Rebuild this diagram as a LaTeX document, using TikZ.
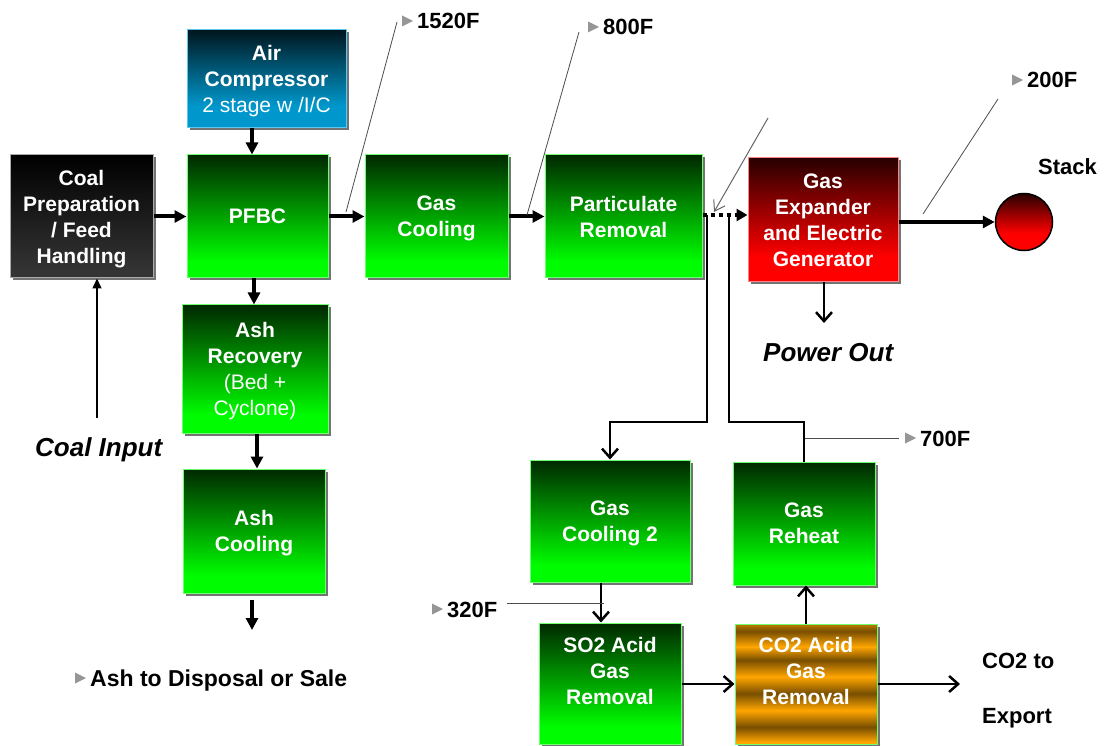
\documentclass[tikz,border=0pt]{standalone}
\usepackage{fontspec}
\setmainfont{Liberation Sans}
\usetikzlibrary{arrows.meta,shadows,calc}

\definecolor{gTop}{RGB}{0,40,0}
\definecolor{gBot}{RGB}{0,252,0}
\definecolor{gLine}{RGB}{110,255,110}
\definecolor{rTop}{RGB}{40,0,0}
\definecolor{rBot}{RGB}{255,0,0}
\definecolor{rLine}{RGB}{255,130,130}
\definecolor{bTop}{RGB}{0,22,30}
\definecolor{bBot}{RGB}{0,152,204}
\definecolor{bLine}{RGB}{90,200,240}
\definecolor{kTop}{RGB}{0,0,0}
\definecolor{kBot}{RGB}{52,52,52}
\definecolor{kLine}{RGB}{170,170,170}
\definecolor{oDark}{RGB}{120,78,0}
\definecolor{oLight}{RGB}{255,166,0}
\definecolor{oMid}{RGB}{190,125,0}
\definecolor{triGray}{RGB}{150,150,150}

\pgfdeclareverticalshading{shgreen}{100bp}{color(0bp)=(gBot); color(32bp)=(gBot); color(75bp)=(gTop); color(100bp)=(gTop)}
\pgfdeclareverticalshading{shred}{100bp}{color(0bp)=(rBot); color(35bp)=(rBot); color(75bp)=(rTop); color(100bp)=(rTop)}
\pgfdeclareverticalshading{shblue}{100bp}{color(0bp)=(bBot); color(36bp)=(bBot); color(75bp)=(bTop); color(100bp)=(bTop)}
\pgfdeclareverticalshading{shblack}{100bp}{color(0bp)=(kBot); color(28bp)=(kBot); color(75bp)=(kTop); color(100bp)=(kTop)}
\pgfdeclareverticalshading{shstack}{100bp}{color(0bp)=(rBot); color(40bp)=(rBot); color(75bp)=(rTop); color(100bp)=(rTop)}
\pgfdeclareverticalshading{shgold}{100bp}{color(0bp)=(oLight); color(25.8bp)=(oLight); color(32bp)=(oDark); color(39bp)=(oLight); color(46bp)=(oDark); color(53bp)=(oLight); color(60bp)=(oDark); color(65.5bp)=(oLight); color(72bp)=(oDark); color(75bp)=(oMid); color(100bp)=(oMid)}

\newcommand\tmark[1]{\fill[tri] ($(#1.base west)+(-15,-13.5)$) -- ++(11,5.5) -- ++(-11,5.5) -- cycle;}

\tikzset{
  boxtxt/.style={text=white, font=\fontsize{21}{26}\selectfont\bfseries, align=center, inner sep=0pt, text depth=0pt, line width=1pt, rectangle,
    general shadow={shadow xshift=2.5pt, shadow yshift=-2.5pt, fill=black!55}},
  gbox/.style={boxtxt, shade, shading=shgreen, draw=gLine},
  rbox/.style={boxtxt, shade, shading=shred, draw=rLine},
  bbox/.style={boxtxt, shade, shading=shblue, draw=bLine},
  kbox/.style={boxtxt, shade, shading=shblack, draw=kLine},
  obox/.style={boxtxt, shade, shading=shgold, draw=gLine},
  thk/.style={line width=4pt, -{Triangle[length=12pt,width=12pt]}},
  med/.style={line width=2.5pt, -{Straight Barb[length=9pt,width=16pt]}},
  plainln/.style={line width=2.5pt},
  leader/.style={draw=black!70, line width=0.8pt},
  lbl/.style={font=\fontsize{22}{26}\selectfont\bfseries, inner sep=0pt, anchor=base west},
  ital/.style={font=\fontsize{26}{30}\selectfont\bfseries\itshape, inner sep=0pt, anchor=base west},
  tri/.style={fill=triGray},
}

\begin{document}
\begin{tikzpicture}[x=1pt,y=-1pt]
\useasboundingbox (0,0) rectangle (1104,746);
\fill[white] (0,0) rectangle (1104,746);

% boxes
\node[kbox, minimum width=143pt, minimum height=123pt] (coal) at (81.5,216.5) {Coal\\Preparation\\/ Feed\\Handling};
\node[bbox, minimum width=159pt, minimum height=98pt] (air) at (266.5,79) {Air\\Compressor\\{\mdseries 2 stage w /I/C}};
\node[gbox, minimum width=141pt, minimum height=123pt] (pfbc) at (257.5,216.5) {PFBC};
\node[gbox, minimum width=143pt, minimum height=123pt] (gc) at (436.5,216.5) {Gas\\Cooling};
\node[gbox, minimum width=157pt, minimum height=123pt] (pr) at (623.5,216.5) {Particulate\\Removal};
\node[rbox, minimum width=150pt, minimum height=124pt] (ge) at (823,220) {Gas\\Expander\\and Electric\\Generator};
\node[circle, minimum size=57pt, inner sep=0pt, shade, shading=shstack, draw=black, line width=1.5pt] (stack) at (1024,222) {};
\node[gbox, minimum width=146pt, minimum height=128pt] (ashrec) at (255,369) {Ash\\Recovery\\{\mdseries (Bed +}\\{\mdseries Cyclone)}};
\node[gbox, minimum width=142pt, minimum height=124pt] (ashcool) at (254,531) {Ash\\Cooling};
\node[gbox, minimum width=160pt, minimum height=122pt] (gc2) at (610,521) {Gas\\Cooling 2};
\node[gbox, minimum width=142pt, minimum height=123pt] (gr) at (804,523.5) {Gas\\Reheat};
\node[gbox, minimum width=142pt, minimum height=121pt] (so2) at (610,683.5) {SO2 Acid\\Gas\\Removal\\\mbox{}};
\node[obox, minimum width=142pt, minimum height=120pt] (co2) at (806,684) {CO2 Acid\\Gas\\Removal\\\mbox{}};

% free ends and junctions
\coordinate (j1) at (707,215);
\coordinate (j2) at (729,215);
\coordinate (b1) at (707,422);
\coordinate (b2) at (805,422);
\coordinate (ci) at (97,418);
\coordinate (ao) at (252,630);
\coordinate (po) at (824,323);
\coordinate (ex) at (960,684);

% main thick arrows
\draw[thk] (coal.east) -- (pfbc.west);
\draw[thk] ($(pfbc.north |- air.south)+(-5.5,0)$) -- ($(pfbc.north)+(-5.5,0)$);
\draw[thk] (pfbc.east) -- (gc.west);
\draw[thk] (gc.east) -- (pr.west);
\draw[thk] ($(pfbc.south)+(-3.5,0)$) -- ($(pfbc.south |- ashrec.north)+(-3.5,0)$);
\draw[thk] ($(ashrec.south)+(2,0)$) -- ($(ashrec.south |- ashcool.north)+(2,0)$);
\draw[thk] ($(ashcool.south -| ao)+(0,6)$) -- (ao);
\draw[thk, line width=3.5pt] (ge.east |- stack.west) -- (stack.west);
\draw[line width=4pt, dash pattern=on 4pt off 4pt, -{Triangle[length=11pt,width=12pt]}] (pr.east |- j1) -- (ge.west |- j1);

% coal input
\draw[line width=1.5pt, -{Triangle[length=10pt,width=9pt]}] (ci) -- (coal.south -| ci);

% branch to cleanup train
\draw[med] (j1) -- (b1) -| (gc2.north);
\draw[plainln] (gr.north) -- (gr.north |- b2) -| (j2);
\draw[med] ($(gc2.south)+(-9,0)$) -- ($(gc2.south |- so2.north)+(-9,0)$);
\draw[med] (so2.east |- ex) -- (co2.west |- ex);
\draw[med] (co2.east |- ex) -- (ex);
\draw[med] (co2.north) -- (co2.north |- gr.south);
\draw[med] (ge.south -| po) -- (po);

% leaders
\coordinate (l1a) at (397,22);  \coordinate (l1b) at (346,212);
\coordinate (l2a) at (579,32);  \coordinate (l2b) at (527,215);
\coordinate (l3a) at (998,99);  \coordinate (l3b) at (923,214);
\coordinate (l4a) at (805,438); \coordinate (l4b) at (899,438);
\coordinate (l5a) at (507,603); \coordinate (l5b) at (604,603);
\coordinate (ga1) at (768,118); \coordinate (ga2) at (714,212);
\draw[leader] (l1a) -- (l1b);
\draw[leader] (l2a) -- (l2b);
\draw[leader] (l3a) -- (l3b);
\draw[leader] (l4a) -- (l4b);
\draw[leader] (l5a) -- (l5b);
\draw[leader, draw=black!60, line width=1pt, -{Straight Barb[length=10pt,width=13pt]}] (ga1) -- (ga2);

% labels
\node[lbl] (t1520) at (417,29) {1520F}; \tmark{t1520}
\node[lbl] (t800) at (603,35) {800F}; \tmark{t800}
\node[lbl] (t200) at (1027,88) {200F}; \tmark{t200}
\node[lbl] (t700) at (920,446) {700F}; \tmark{t700}
\node[lbl] (t320) at (447,617) {320F}; \tmark{t320}
\node[lbl, font=\fontsize{23}{26}\selectfont\bfseries] (tash) at (90,686) {Ash to Disposal or Sale}; \tmark{tash}
\node[lbl] (tstack) at (1038,175) {Stack};
\node[lbl] (tco2a) at (982,668) {CO2 to};
\node[lbl] (tco2b) at (982,723) {Export};
\node[ital] (tcoal) at (35,456) {Coal Input};
\node[ital] (tpow) at (763,361) {Power Out};
\end{tikzpicture}
\end{document}
